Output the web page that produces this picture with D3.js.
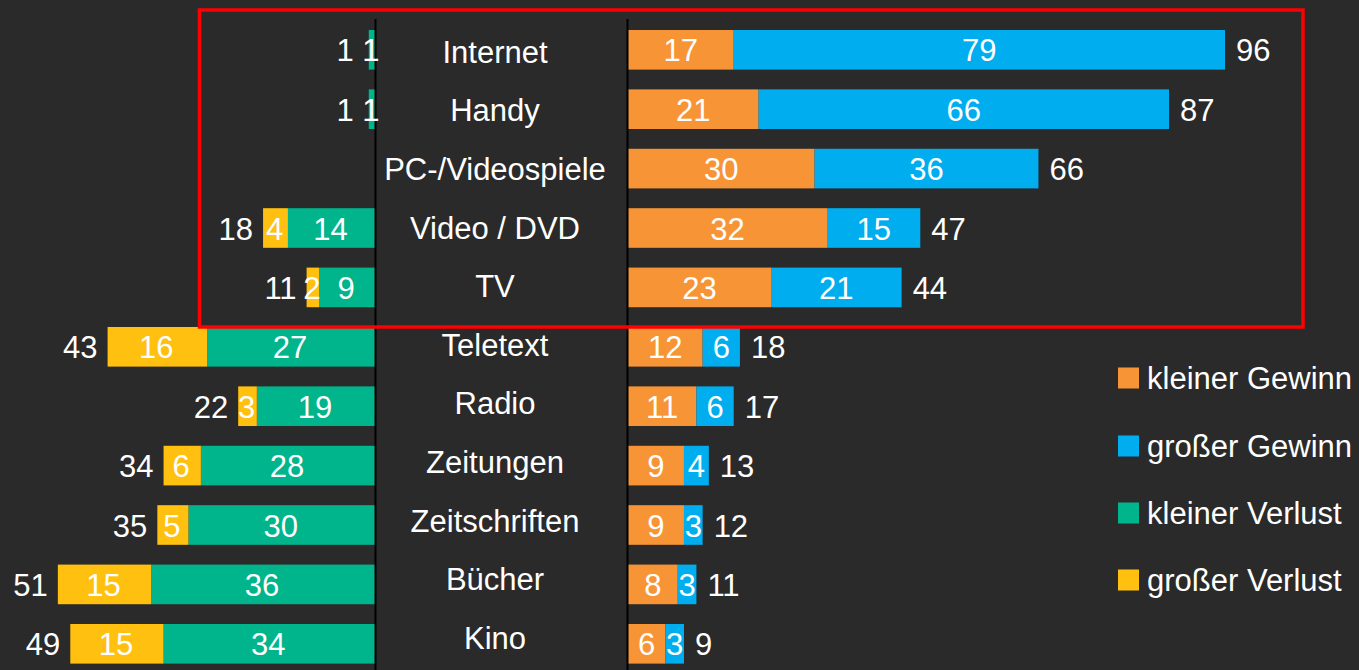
<!DOCTYPE html>
<html><head><meta charset="utf-8">
<script src="https://cdn.jsdelivr.net/npm/d3@7/dist/d3.min.js"></script>
<style>
html,body{margin:0;padding:0;background:#2a2a2a;}
svg{display:block;}
text{font-family:"Liberation Sans",Arial,sans-serif;fill:#fff;}
</style></head><body>
<script>
const categories = ["Internet","Handy","PC-/Videospiele","Video / DVD","TV","Teletext","Radio","Zeitungen","Zeitschriften","Bücher","Kino"];
const kleinerGewinn = [17,21,30,32,23,12,11,9,9,8,6];
const grosserGewinn = [79,66,36,15,21,6,6,4,3,3,3];
const kleinerVerlust = [1,1,0,14,9,27,19,28,30,36,34];
const grosserVerlust = [0,0,0,4,2,16,3,6,5,15,15];
const gewinnTotal = [96,87,66,47,44,18,17,13,12,11,9];
const verlustTotal = [1,1,0,18,11,43,22,34,35,51,49];
const legendLabels = ["kleiner Gewinn","großer Gewinn","kleiner Verlust","großer Verlust"];
const colors = {kG:"#f79436", gG:"#00aeef", kV:"#00b48c", gV:"#ffc010"};

const W=1359,H=670;
const svg=d3.select("body").append("svg").attr("width",W).attr("height",H);
svg.append("rect").attr("width",W).attr("height",H).attr("fill","#2a2a2a");
const gBars=svg.append("g"), gLines=svg.append("g"), gText=svg.append("g");

const rightX0=628, leftX0=375;
const x=d3.scaleLinear().domain([0,96]).range([0,597]);
const y=d3.scaleBand().domain(categories).range([20.1,20.1+11*59.4]).paddingInner(0.333).paddingOuter(0.1665);
const yLab=d3.scalePoint().domain(categories).range([62.7,62.7+10*58.63]);
const bh=y.bandwidth();
const fs=31;

categories.forEach((c,i)=>{
  const yc=y(c)+bh/2;
  const base=yc+11.5;
  // right
  const segsR=[{v:kleinerGewinn[i],col:colors.kG},{v:grosserGewinn[i],col:colors.gG}];
  let acc=0;
  segsR.forEach(s=>{
    const x0=rightX0+x(acc), w=x(s.v);
    if(s.v>0){
      gBars.append("rect").attr("x",x0).attr("y",y(c)).attr("width",w).attr("height",bh).attr("fill",s.col);
      gText.append("text").attr("x",x0+w/2).attr("y",base).attr("text-anchor","middle").attr("font-size",fs).text(s.v);
    }
    acc+=s.v;
  });
  if(gewinnTotal[i]>0)
    gText.append("text").attr("x",rightX0+x(acc)+11).attr("y",base).attr("font-size",fs).text(gewinnTotal[i]);
  // left
  const segsL=[{v:kleinerVerlust[i],col:colors.kV},{v:grosserVerlust[i],col:colors.gV}];
  acc=0;
  segsL.forEach(s=>{
    const x1=leftX0-x(acc), w=x(s.v);
    if(s.v>0){
      gBars.append("rect").attr("x",x1-w).attr("y",y(c)).attr("width",w).attr("height",bh).attr("fill",s.col);
      gText.append("text").attr("x",x1-w/2-1).attr("y",base).attr("text-anchor","middle").attr("font-size",fs).text(s.v);
    }
    acc+=s.v;
  });
  if(verlustTotal[i]>0)
    gText.append("text").attr("x",leftX0-x(acc)-(kleinerVerlust[i]+grosserVerlust[i]<3?15:10)).attr("y",base).attr("text-anchor","end").attr("font-size",fs).text(verlustTotal[i]);
  // category
  gText.append("text").attr("x",495).attr("y",yLab(c)).attr("text-anchor","middle").attr("font-size",fs).text(c);
});

// vertical lines
[leftX0+0.5,rightX0-0.5].forEach(xx=>{
  gLines.append("line").attr("x1",xx).attr("x2",xx).attr("y1",19).attr("y2",H).attr("stroke","#000").attr("stroke-width",2);
});

// legend
const legCols=[colors.kG,colors.gG,colors.kV,colors.gV];
const legY=[378,446,513,580];
legendLabels.forEach((l,i)=>{
  svg.append("rect").attr("x",1118).attr("y",legY[i]-10.5).attr("width",21).attr("height",21).attr("fill",legCols[i]);
  svg.append("text").attr("x",1147).attr("y",legY[i]+10.5).attr("font-size",31).text(l);
});

// red highlight
svg.append("rect").attr("x",199.5).attr("y",10).attr("width",1103.5).attr("height",317).attr("fill","none").attr("stroke","#ff0000").attr("stroke-width",3.5);
</script>
</body></html>
